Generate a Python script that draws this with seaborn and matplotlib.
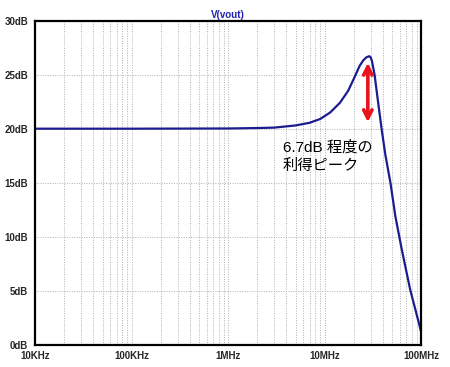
import numpy as np
import pandas as pd
import matplotlib
matplotlib.use('Agg')
import matplotlib.pyplot as plt
from matplotlib.ticker import FixedLocator, FuncFormatter, LogLocator, NullFormatter
import seaborn as sns

sns.set_style("white")
plt.rcParams['font.family'] = ['Liberation Sans', 'Noto Sans CJK JP', 'DejaVu Sans']

# values (frequency in Hz, gain in dB)
freq = [1e4, 1e5, 1e6, 2e6, 3e6, 5e6, 7e6, 9e6, 11.4e6, 14.4e6, 17.5e6, 20e6,
        23e6, 25e6, 27e6, 29e6, 30e6, 31e6, 33e6, 35e6, 39e6, 42.5e6, 48e6,
        54e6, 63e6, 77e6, 100e6]
gain = [20.0, 20.0, 20.02, 20.06, 20.1, 20.3, 20.55, 20.9, 21.5, 22.4, 23.5, 24.6,
        25.8, 26.3, 26.6, 26.7, 26.6, 26.2, 24.9, 23.1, 19.9, 17.6, 15.0,
        11.9, 8.8, 5.1, 1.2]
xticks = [1e4, 1e5, 1e6, 1e7, 1e8]
xlabels = ['10KHz', '100KHz', '1MHz', '10MHz', '100MHz']
yticks = [0, 5, 10, 15, 20, 25, 30]

df = pd.DataFrame({'freq': freq, 'gain': gain})

fig = plt.figure(figsize=(4.5, 3.67), dpi=100)
ax = fig.add_axes([0.078, 0.06, 0.858, 0.884])

sns.lineplot(data=df, x='freq', y='gain', ax=ax, color='#1c1c8f', lw=1.6)
ax.set_xscale('log')
ax.set_xlim(1e4, 1e8)
ax.set_ylim(0, 30)

ax.xaxis.set_major_locator(FixedLocator(xticks))
ax.set_xticklabels(xlabels)
ax.xaxis.set_minor_locator(LogLocator(base=10, subs=np.arange(2, 10)))
ax.xaxis.set_minor_formatter(NullFormatter())
ax.yaxis.set_major_locator(FixedLocator(yticks))
ax.yaxis.set_major_formatter(FuncFormatter(lambda v, p: f"{int(v)}dB"))

ax.grid(True, which='both', axis='x', color='#b0b0b0', ls=(0, (1, 1.5)), lw=0.7)
ax.grid(True, which='major', axis='y', color='#b0b0b0', ls=(0, (1, 1.5)), lw=0.7)

for s in ax.spines.values():
    s.set_color('black')
    s.set_linewidth(1.6)
ax.tick_params(axis='both', which='major', direction='out', length=4, width=1.4,
               labelsize=7, pad=1)
ax.tick_params(axis='x', which='minor', direction='out', length=2.5, width=1.0)
ax.tick_params(axis='x', which='major', length=3)
for lab in ax.get_xticklabels() + ax.get_yticklabels():
    lab.set_fontweight('bold')
ax.set_xlabel('')
ax.set_ylabel('')
ax.set_title('V(vout)', fontsize=7, fontweight='bold', color='#2020b0', pad=2)

# red double arrow marking the peak
ax.annotate('', xy=(28e6, 26.1), xytext=(28e6, 20.6),
            arrowprops=dict(arrowstyle='<->', color='#e8141c', lw=2.6,
                            mutation_scale=15, shrinkA=0, shrinkB=0))
ax.text(3.7e6, 17.45, '6.7dB 程度の\n利得ピーク', fontsize=11, color='black',
        va='center', ha='left', linespacing=1.4,
        family=['Liberation Sans', 'Noto Sans CJK JP'])

fig.savefig('out.png', dpi=100)
